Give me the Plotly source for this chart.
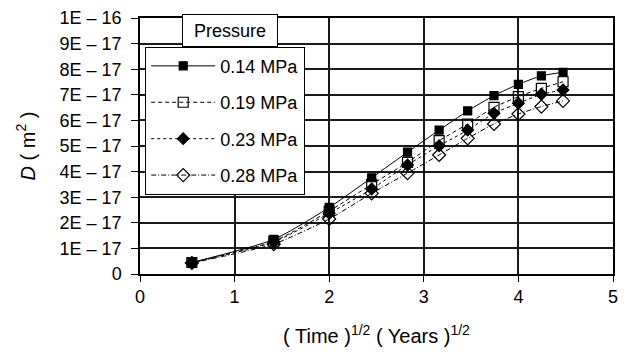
import plotly.graph_objects as go

x_vals = [0.548, 1.414, 2.0, 2.449, 2.828, 3.162, 3.464, 3.742, 4.0, 4.243, 4.472]

series_names = ["0.14 MPa", "0.19 MPa", "0.23 MPa", "0.28 MPa"]
d_014 = [0.45, 1.35, 2.60, 3.76, 4.76, 5.62, 6.37, 6.97, 7.41, 7.74, 7.88]
d_019 = [0.45, 1.28, 2.46, 3.50, 4.36, 5.21, 5.86, 6.51, 6.93, 7.25, 7.51]
d_023 = [0.44, 1.25, 2.37, 3.32, 4.26, 5.01, 5.62, 6.28, 6.67, 7.02, 7.19]
d_028 = [0.43, 1.17, 2.15, 3.15, 3.94, 4.65, 5.30, 5.86, 6.25, 6.54, 6.76]
scale = 1e-17

y_tick_vals = [i * 1e-17 for i in range(11)]
y_tick_text = ["0", "1E \u2013 17", "2E \u2013 17", "3E \u2013 17", "4E \u2013 17", "5E \u2013 17",
               "6E \u2013 17", "7E \u2013 17", "8E \u2013 17", "9E \u2013 17", "1E \u2013 16"]
x_tick_vals = [0, 1, 2, 3, 4, 5]

styles = [
    dict(dash="solid", symbol="square", size=8),
    dict(dash="4px,3px", symbol="square-open", size=10),
    dict(dash="dot", symbol="diamond", size=9),
    dict(dash="5px,2px,1px,2px", symbol="diamond-open", size=10),
]

FONT = "Liberation Sans, Arial, sans-serif"
fig = go.Figure()
for i, (name, vals, st) in enumerate(zip(series_names, [d_014, d_019, d_023, d_028], styles)):
    fig.add_trace(go.Scatter(
        x=x_vals, y=[v * scale for v in vals], name=name,
        mode="lines+markers",
        line=dict(color="black", width=1, dash=st["dash"], shape="spline", smoothing=0.6),
        marker=dict(symbol=st["symbol"], size=st["size"], color="black",
                    line=dict(color="black", width=1.2)),
        legendgroup=f"g{i}",
    ))

fig.update_layout(
    width=627, height=352,
    margin=dict(l=140, r=14, t=18, b=78),
    paper_bgcolor="white", plot_bgcolor="white",
    font=dict(family=FONT, color="black", size=18),
    showlegend=True,
    legend=dict(
        x=0.011, y=0.888, xanchor="left", yanchor="top",
        bgcolor="white", bordercolor="black", borderwidth=1,
        font=dict(size=18, family=FONT),
        itemwidth=64, tracegroupgap=10, traceorder="grouped",
    ),
    xaxis=dict(
        range=[0, 5], tickvals=x_tick_vals, ticks="outside", ticklen=6, tickcolor="black",
        showgrid=True, gridcolor="#1a1a1a", gridwidth=1.5, automargin=False,
        showline=True, linecolor="black", linewidth=1.5, mirror=True,
        zeroline=False, tickfont=dict(size=18),
        title=dict(text="( Time )<sup>1/2</sup> ( Years )<sup>1/2</sup>", font=dict(size=20), standoff=23),
    ),
    yaxis=dict(
        range=[0, 1e-16], tickvals=y_tick_vals, ticktext=y_tick_text, ticks="outside",
        ticklen=7, tickcolor="black", ticklabelstandoff=6, automargin=False,
        showgrid=True, gridcolor="#1a1a1a", gridwidth=1.5,
        showline=True, linecolor="black", linewidth=1.5, mirror=True,
        zeroline=False, tickfont=dict(size=18),
        title=dict(text="<i>D</i> ( m<sup>2</sup> )", font=dict(size=20), standoff=19),
    ),
    annotations=[dict(
        text="Pressure", xref="paper", yref="paper", x=0.191, y=0.953,
        xanchor="center", yanchor="middle", showarrow=False,
        font=dict(size=18, family=FONT), bgcolor="white",
        width=88, height=25,
        bordercolor="black", borderwidth=1, borderpad=3,
    )],
)

fig.write_html("out.html", config={"displayModeBar": False},
               post_script="document.body.style.margin='0';document.body.style.padding='0';")
